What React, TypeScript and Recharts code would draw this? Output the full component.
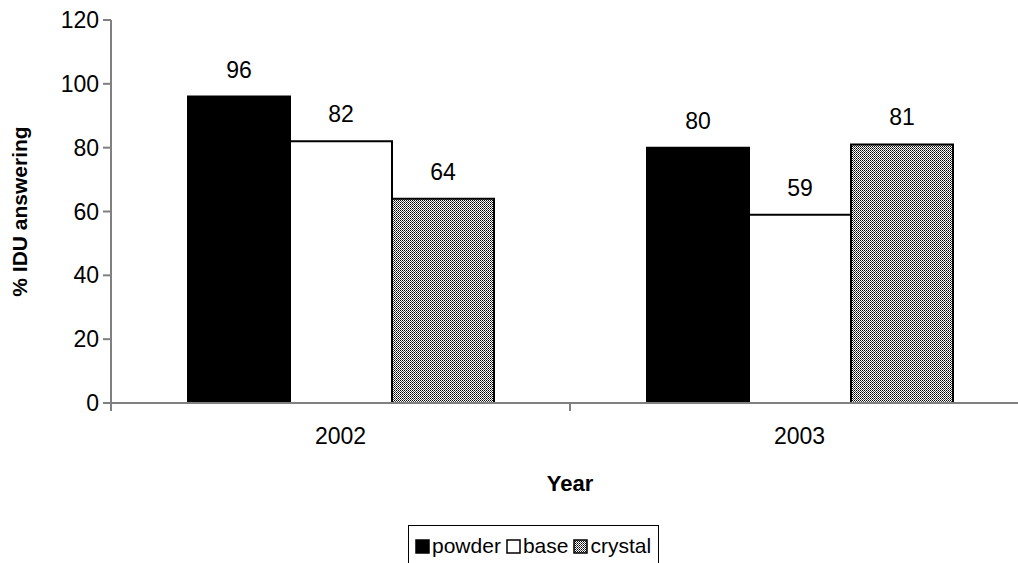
import { BarChart, Bar, XAxis, YAxis, LabelList } from "recharts";

const years = ["2002", "2003"];
const powder = [96, 80];
const base = [82, 59];
const crystal = [64, 81];
const yTicks = [0, 20, 40, 60, 80, 100, 120];

const data = years.map((year, i) => ({
  year,
  powder: powder[i],
  base: base[i],
  crystal: crystal[i],
}));

const FONT = "'Liberation Sans', Arial, sans-serif";
const AXIS = "#808080";
const FS = 23;

const XTick = (props: any) => {
  const { x, y, payload, index, visibleTicksCount } = props;
  const half = payload && payload.offset ? payload.offset : 229.5;
  const top = 403;
  return (
    <g>
      <line x1={x - half} y1={top} x2={x - half} y2={top + 8} stroke={AXIS} strokeWidth={2} />
      {index === visibleTicksCount - 1 && (
        <line x1={x + half} y1={top} x2={x + half} y2={top + 8} stroke={AXIS} strokeWidth={2} />
      )}
      <text x={x} y={y + 33} textAnchor="middle" fontSize={FS} fill="#000" fontFamily={FONT}>
        {payload.value}
      </text>
    </g>
  );
};

const LegendBox = () => {
  const items = [
    { name: "powder", fill: "#000" },
    { name: "base", fill: "#fff" },
    { name: "crystal", fill: "url(#crystal)" },
  ];
  return (
    <div
      style={{
        position: "absolute",
        left: 408,
        top: 525,
        height: 40,
        border: "1.5px solid #000",
        display: "flex",
        alignItems: "center",
        padding: "0 2px 0 6px",
        fontFamily: FONT,
        fontSize: 21,
        background: "#fff",
      }}
    >
      {items.map((it) => (
        <span key={it.name} style={{ display: "flex", alignItems: "center", marginRight: 5 }}>
          <svg width={15} height={15} style={{ marginRight: 2 }}>
            <rect x={1} y={1} width={13} height={13} fill={it.fill} stroke="#000" strokeWidth={1.5} />
          </svg>
          {it.name}
        </span>
      ))}
    </div>
  );
};

export default function App() {
  return (
    <div
      style={{
        position: "absolute",
        left: 0,
        top: 0,
        width: 1018,
        height: 563,
        overflow: "hidden",
        background: "#fff",
      }}
    >
      <svg width={0} height={0} style={{ position: "absolute" }}>
        <defs>
          <pattern id="crystal" width={2} height={2} patternUnits="userSpaceOnUse">
            <rect width={2} height={2} fill="#fff" />
            <rect x={0} y={0} width={1} height={1} fill="#000" />
            <rect x={1} y={1} width={1} height={1} fill="#444" />
          </pattern>
        </defs>
      </svg>
      <BarChart
        width={1040}
        height={563}
        data={data}
        margin={{ top: 20, right: 11, bottom: 0, left: 0 }}
        barGap={0}
        barSize={102}
        style={{ fontFamily: FONT }}
      >
        <XAxis
          dataKey="year"
          height={160}
          stroke={AXIS}
          strokeWidth={2}
          tickLine={false}
          tick={<XTick />}
          interval={0}
          label={{
            content: (p: any) => {
              const vb = p.viewBox || { x: 111, width: 918, y: 403 };
              return (
                <text
                  x={vb.x + vb.width / 2}
                  y={vb.y + 88}
                  textAnchor="middle"
                  fontSize={22}
                  fontWeight="bold"
                  fill="#000"
                  fontFamily={FONT}
                >
                  Year
                </text>
              );
            },
          }}
        />
        <YAxis
          width={111}
          domain={[0, 120]}
          ticks={yTicks}
          interval={0}
          stroke={AXIS}
          strokeWidth={2}
          tickSize={8}
          tickMargin={4}
          tick={{ fontSize: FS, fill: "#000", fontFamily: FONT }}
          label={{
            content: (p: any) => {
              const vb = p.viewBox || { y: 20, height: 383 };
              const cy = vb.y + vb.height / 2;
              return (
                <text
                  x={27}
                  y={cy}
                  transform={`rotate(-90, 27, ${cy})`}
                  textAnchor="middle"
                  fontSize={21}
                  fontWeight="bold"
                  fill="#000"
                  fontFamily={FONT}
                >
                  % IDU answering
                </text>
              );
            },
          }}
        />
        <Bar dataKey="powder" fill="#000" stroke="#000" strokeWidth={2} isAnimationActive={false}>
          <LabelList dataKey="powder" position="top" offset={19} fontSize={FS} fill="#000" fontFamily={FONT} />
        </Bar>
        <Bar dataKey="base" fill="#fff" stroke="#000" strokeWidth={2} isAnimationActive={false}>
          <LabelList dataKey="base" position="top" offset={19} fontSize={FS} fill="#000" fontFamily={FONT} />
        </Bar>
        <Bar dataKey="crystal" fill="url(#crystal)" stroke="#000" strokeWidth={2} isAnimationActive={false}>
          <LabelList dataKey="crystal" position="top" offset={19} fontSize={FS} fill="#000" fontFamily={FONT} />
        </Bar>
      </BarChart>
      <LegendBox />
    </div>
  );
}
